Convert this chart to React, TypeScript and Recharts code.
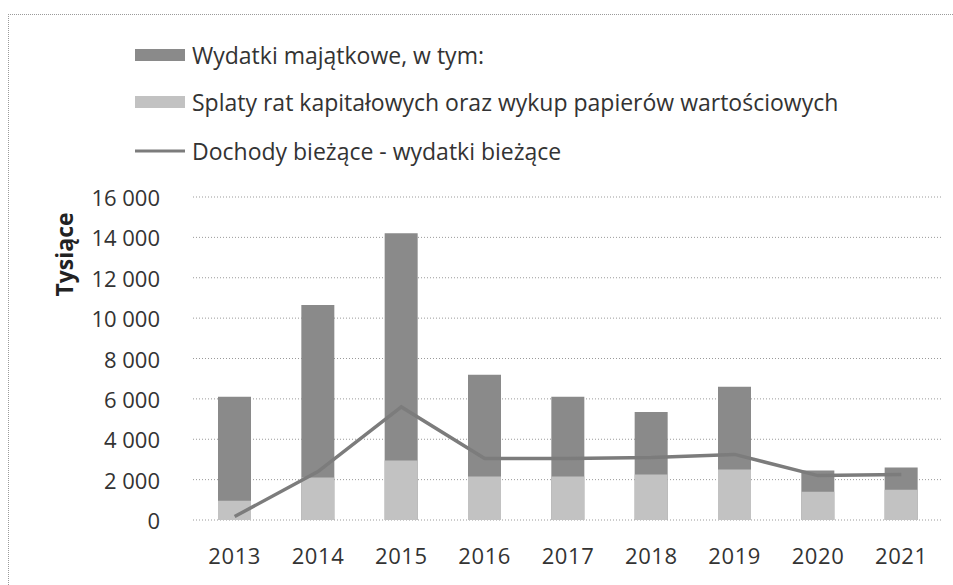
import React from "react";
import {
  ComposedChart,
  Bar,
  Line,
  XAxis,
  YAxis,
  CartesianGrid,
  Legend,
} from "recharts";

const years = ["2013", "2014", "2015", "2016", "2017", "2018", "2019", "2020", "2021"];
const wydatkiMajatkowe = [6100, 10650, 14200, 7200, 6100, 5350, 6600, 2450, 2600];
const splatyRat = [950, 2100, 2950, 2150, 2150, 2250, 2500, 1400, 1500];
const dochodyMinusWydatki = [170, 2400, 5600, 3050, 3050, 3100, 3250, 2200, 2250];
const yTicks = [0, 2000, 4000, 6000, 8000, 10000, 12000, 14000, 16000];

const seriesNames = {
  wydatki: "Wydatki majątkowe, w tym:",
  splaty: "Splaty rat kapitałowych oraz wykup papierów wartościowych",
  dochody: "Dochody bieżące - wydatki bieżące",
};

const data = years.map((y, i) => ({
  year: y,
  wydatki: wydatkiMajatkowe[i],
  splaty: splatyRat[i],
  dochody: dochodyMinusWydatki[i],
}));

const FONT = "'Open Sans', sans-serif";
const DARK = "#8a8a8a";
const LIGHT = "#c2c2c2";
const LINE = "#7c7c7c";

const fmt = (v: number) => {
  const s = String(v);
  return s.length > 3 ? s.slice(0, s.length - 3) + " " + s.slice(-3) : s;
};

const YTick = (props: any) => {
  const { y, payload } = props;
  return (
    <text x={160} y={y} textAnchor="end" dominantBaseline="central" fontFamily={FONT} fontSize={22} fill="#333">
      {fmt(payload.value)}
    </text>
  );
};

const XTick = (props: any) => {
  const { x, y, payload } = props;
  return (
    <text x={x} y={y + 27} textAnchor="middle" dominantBaseline="central" fontFamily={FONT} fontSize={22} letterSpacing={0.6} fill="#333">
      {payload.value}
    </text>
  );
};

const LegendContent = () => {
  const rows = [
    { key: "wydatki", type: "rect", color: DARK },
    { key: "splaty", type: "rect", color: LIGHT },
    { key: "dochody", type: "line", color: LINE },
  ];
  const rowY = [0, 47, 96];
  return (
    <div style={{ position: "relative", width: 780, height: 120, fontFamily: FONT }}>
      {rows.map((r, i) => (
        <div key={r.key} style={{ position: "absolute", left: 0, top: rowY[i], height: 26, display: "flex", alignItems: "center" }}>
          <svg width={52} height={14} style={{ display: "block" }}>
            {r.type === "rect" ? (
              <rect x={0} y={1} width={50} height={12} fill={r.color} />
            ) : (
              <rect x={0} y={5.5} width={50} height={3} fill={r.color} />
            )}
          </svg>
          <span style={{ marginLeft: 5, fontSize: 23, color: "#333", whiteSpace: "nowrap", lineHeight: "26px" }}>
            {(seriesNames as any)[r.key]}
          </span>
        </div>
      ))}
    </div>
  );
};

export default function App() {
  return (
    <div style={{ position: "absolute", left: 0, top: 0, width: 953, height: 585, background: "#fff", overflow: "hidden" }}>
      <div
        style={{
          position: "absolute",
          left: 8,
          top: 14,
          width: 960,
          height: 600,
          borderTop: "1px dotted #9a9a9a",
          borderLeft: "1px dotted #9a9a9a",
        }}
      />
      <div style={{ position: "absolute", left: 0, top: 0 }}>
        <ComposedChart
          width={953}
          height={585}
          data={data}
          margin={{ top: 197, right: 10, bottom: 0, left: 0 }}
          barGap={-33}
        >
          <CartesianGrid vertical={false} stroke="#9a9a9a" strokeDasharray="1 2" />
          <XAxis
            dataKey="year"
            axisLine={false}
            tickLine={false}
            height={65}
            tick={<XTick />}
            interval={0}
          />
          <YAxis
            width={193}
            domain={[0, 16000]}
            ticks={yTicks}
            axisLine={false}
            tickLine={false}
            tick={<YTick />}
            interval={0}
            label={{
              value: "Tysiące",
              angle: -90,
              position: "insideLeft",
              dx: 60,
              dy: -104,
              style: { fontFamily: FONT, fontSize: 23, fontWeight: 700, fill: "#222", textAnchor: "middle" },
            }}
          />
          <Legend
            layout="vertical"
            align="center"
            verticalAlign="middle"
            wrapperStyle={{ position: "absolute", left: 135, top: 42, width: 800 }}
            content={<LegendContent />}
          />
          <Bar dataKey="wydatki" name={seriesNames.wydatki} fill={DARK} barSize={33} isAnimationActive={false} />
          <Bar dataKey="splaty" name={seriesNames.splaty} fill={LIGHT} barSize={33} isAnimationActive={false} />
          <Line
            dataKey="dochody"
            name={seriesNames.dochody}
            stroke={LINE}
            strokeWidth={3.5}
            dot={false}
            activeDot={false}
            isAnimationActive={false}
          />
        </ComposedChart>
      </div>
    </div>
  );
}
